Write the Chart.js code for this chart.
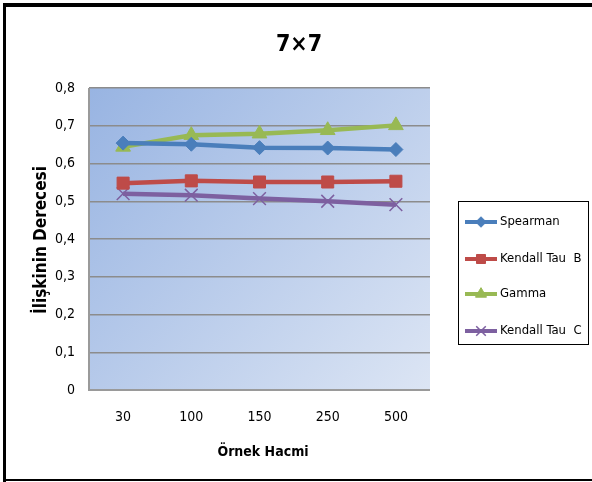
<!DOCTYPE html>
<html>
<head>
<meta charset="utf-8">
<script src="https://cdn.jsdelivr.net/npm/chart.js@4.4.1/dist/chart.umd.min.js"></script>
<style>
  html, body { margin: 0; padding: 0; background: #fff; }
  #wrap { width: 592px; height: 482px; }
</style>
</head>
<body>
<div id="wrap"><canvas id="corrChart" width="592" height="482"></canvas></div>
<script>
const FONT = '"Liberation Sans Narrow", "DejaVu Sans Condensed", "Open Sans", sans-serif';

// sample sizes on the x axis
const sampleSizes = ['30', '100', '150', '250', '500'];
const yTicks = [0, 0.1, 0.2, 0.3, 0.4, 0.5, 0.6, 0.7, 0.8];

// values
const spearman = [0.654, 0.651, 0.642, 0.641, 0.637];
const kendallB = [0.548, 0.554, 0.551, 0.551, 0.553];
const gamma = [0.644, 0.675, 0.679, 0.688, 0.701];
const kendallC = [0.520, 0.516, 0.507, 0.500, 0.491];

const chartTitle = '7×7';
const xTitle = 'Örnek Hacmi';
const yTitle = 'İlişkinin Derecesi';

function series(label, data, color, style, radius, pointWidth) {
    return {
        label: label,
        data: data,
        borderColor: color,
        backgroundColor: color,
        pointBackgroundColor: color,
        pointBorderColor: color,
        borderWidth: 4.5,
        pointStyle: style,
        pointRadius: radius,
        pointHoverRadius: radius,
        pointBorderWidth: pointWidth,
        tension: 0,
        fill: false
    };
}

// plot background, frame, titles and legend box
const decorations = {
    id: 'decorations',
    beforeDraw(chart) {
        const { ctx, chartArea: a } = chart;
        ctx.save();
        const g = ctx.createLinearGradient(a.left, a.top, a.right, a.bottom);
        g.addColorStop(0, '#98b4e2');
        g.addColorStop(1, '#dce5f4');
        ctx.fillStyle = g;
        ctx.fillRect(a.left, a.top, a.right - a.left, a.bottom - a.top);
        ctx.restore();
    },
    afterDraw(chart) {
        const { ctx, chartArea: a } = chart;
        ctx.save();
        // outer frame
        ctx.fillStyle = '#000';
        ctx.fillRect(3, 3, 592, 4);
        ctx.fillRect(3, 3, 3, 482);
        ctx.fillRect(3, 479, 592, 2);

        // axis lines
        ctx.strokeStyle = '#9a9a9a';
        ctx.lineWidth = 2;
        ctx.beginPath();
        ctx.moveTo(a.left, a.top);
        ctx.lineTo(a.left, a.bottom);
        ctx.lineTo(a.right, a.bottom);
        ctx.stroke();

        // titles
        ctx.fillStyle = '#000';
        ctx.textAlign = 'center';
        ctx.textBaseline = 'middle';
        ctx.font = 'bold 23px ' + FONT;
        ctx.fillText(chartTitle, 299, 45);
        ctx.font = 'bold 14px ' + FONT;
        ctx.fillText(xTitle, 263, 452);
        ctx.translate(42, 240);
        ctx.rotate(-Math.PI / 2);
        ctx.font = 'bold 17px ' + FONT;
        ctx.fillText(yTitle, 0, 0);
        ctx.restore();

        // legend
        ctx.save();
        ctx.strokeStyle = '#000';
        ctx.lineWidth = 1;
        ctx.strokeRect(458.5, 201.5, 130, 143);
        const rows = [222, 259, 294, 331];
        ctx.font = '13px ' + FONT;
        ctx.textAlign = 'left';
        ctx.textBaseline = 'middle';
        chart.data.datasets.forEach((ds, i) => {
            const y = rows[i];
            ctx.strokeStyle = ds.borderColor;
            ctx.lineWidth = 4;
            ctx.beginPath();
            ctx.moveTo(465, y);
            ctx.lineTo(497, y);
            ctx.stroke();
            ctx.fillStyle = ds.pointBackgroundColor;
            ctx.strokeStyle = ds.pointBorderColor;
            ctx.lineWidth = ds.pointBorderWidth;
            Chart.helpers.drawPoint(ctx, { pointStyle: ds.pointStyle, radius: ds.pointRadius * 0.75, borderWidth: ds.pointBorderWidth, rotation: 0 }, 481, y);
            ctx.fillStyle = '#000';
            ctx.fillText(ds.label, 500, y);
        });
        ctx.restore();
    }
};

const ctx = document.getElementById('corrChart').getContext('2d');
const corrChart = new Chart(ctx, {
    type: 'line',
    data: {
        labels: sampleSizes,
        datasets: [
            series('Spearman', spearman, '#4a7ebb', 'rectRot', 7, 1),
            series('Kendall Tau  B', kendallB, '#be4b48', 'rect', 8.5, 1),
            series('Gamma', gamma, '#98b954', 'triangle', 8.5, 1),
            series('Kendall Tau  C', kendallC, '#7d60a0', 'crossRot', 9, 1.5)
        ]
    },
    options: {
        responsive: false,
        animation: false,
        devicePixelRatio: 1,
        layout: { padding: { left: 0, top: 88, right: 162, bottom: 0 } },
        plugins: {
            legend: { display: false },
            title: { display: false },
            tooltip: { enabled: false }
        },
        scales: {
            x: {
                offset: true,
                grid: { display: false, drawTicks: false },
                border: { display: false },
                ticks: { color: '#000', font: { family: FONT, size: 14 }, padding: 19 },
                afterFit(scale) { scale.height = 92; }
            },
            y: {
                min: 0,
                max: 0.8,
                afterBuildTicks(scale) { scale.ticks = yTicks.map(v => ({ value: v })); },
                grid: { color: '#8c8c8c', lineWidth: 1.5, drawTicks: false },
                border: { display: false },
                ticks: {
                    color: '#000',
                    font: { family: FONT, size: 14 },
                    padding: 14,
                    callback: v => v === 0 ? '0' : v.toFixed(1).replace('.', ',')
                },
                afterFit(scale) { scale.width = 89; }
            }
        }
    },
    plugins: [decorations]
});
</script>
</body>
</html>
